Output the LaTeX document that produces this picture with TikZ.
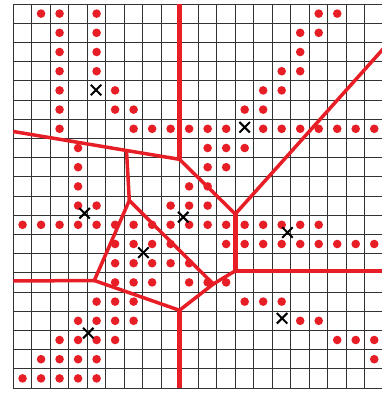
\documentclass[tikz,border=0pt]{standalone}
\usepackage{tikz}
\usetikzlibrary{positioning,shapes.misc}
\definecolor{vred}{RGB}{232,30,38}
\definecolor{gridgray}{RGB}{50,50,50}

\begin{document}
\begin{tikzpicture}[x=18.51pt,y=-19.2pt,
    cell/.style={draw=gridgray,line width=1pt},
    edge/.style={draw=vred,line width=3.5pt},
    wide/.style={draw=vred,line width=4.5pt},
    site/.style={draw,cross out,minimum size=8.5pt,inner sep=0pt,line width=2pt}]
  \useasboundingbox (-0.7185,-0.2083) rectangle (19.919,20.3125);
  \clip (-0.7185,-0.2083) rectangle (19.919,20.3125);
  % grid
  \foreach \i in {0,...,20} {
    \draw[cell] (\i,0) -- (\i,20);
    \draw[cell] (0,\i) -- (20,\i);
  }
  % points
  \foreach \r/\cols in {0/{1,2,4,16,17},1/{2,4,15,16},2/{2,4,15},3/{2,4,14,15},
      4/{2,5,13,14},5/{2,5,6,12,13},6/{2,6,7,8,9,10,11,13,14,15,16,17,18,19},
      7/{3,10,11,12},8/{3,10,11},9/{3,9,10},10/{3,4,8,9,10},
      11/{0,1,2,3,4,5,6,7,8,9,10,11,12,13,14,15,16},12/{5,6,7,8,11,12,13,14,15,16,17,18,19},
      13/{5,6,7,8,9},14/{5,6,7,9,10,11},15/{4,5,6,12,13,14},16/{3,4,5,6,15,16},
      17/{2,3,4,5,17,18,19},18/{1,2,3,4,19},19/{0,1,2,3,4}}
    \foreach \c in \cols
      \fill[vred] (\c+0.5,\r+0.5) circle[radius=4.3pt];
  % centres
  \node[site] (c1) at (4.47,4.48) {};
  \node[site] (c2) at (12.50,6.42) {};
  \node[site] (c3) at (3.85,10.90) {};
  \node[site] (c4) at (9.18,11.10) {};
  \node[site] (c5) at (7.03,12.95) {};
  \node[site] (c6) at (14.81,11.90) {};
  \node[site] (c7) at (4.05,17.14) {};
  \node[site] (c8) at (14.52,16.37) {};
  % cell borders
  \coordinate (top) at (8.979,0);
  \coordinate (bottom) at (8.979,20);
  \coordinate (leftup) at (0,6.641);
  \coordinate (leftlow) at (0,14.427);
  \coordinate (rightlow) at (20,13.9);
  \coordinate (rightup) at (20,2.32);
  \coordinate (hub) at (8.979,8.089);
  \coordinate (kink) at (6.116,7.630);
  \coordinate (pentop) at (6.267,10.234);
  \coordinate (penleft) at (4.376,14.401);
  \coordinate (penbot) at (8.979,15.953);
  \coordinate (penright) at (10.805,14.583);
  \coordinate (ejoin) at (11.993,13.9);
  \coordinate (ecen) at (11.993,10.938);
  \draw[wide] (top) -- (hub);
  \draw[edge] (leftup) -- (kink) -- (hub);
  \draw[edge] (kink) -- (pentop);
  \draw[edge] (pentop) -- (penleft) -- (penbot) -- (penright) -- cycle;
  \draw[edge] (leftlow) -- (penleft);
  \draw[wide] (penbot) -- (bottom);
  \draw[edge] (penright) -- (ejoin);
  \draw[wide] (ejoin) -- (ecen);
  \draw[wide] (ejoin) -- (rightlow);
  \draw[edge] (hub) -- (ecen) -- (rightup);
\end{tikzpicture}
\end{document}
